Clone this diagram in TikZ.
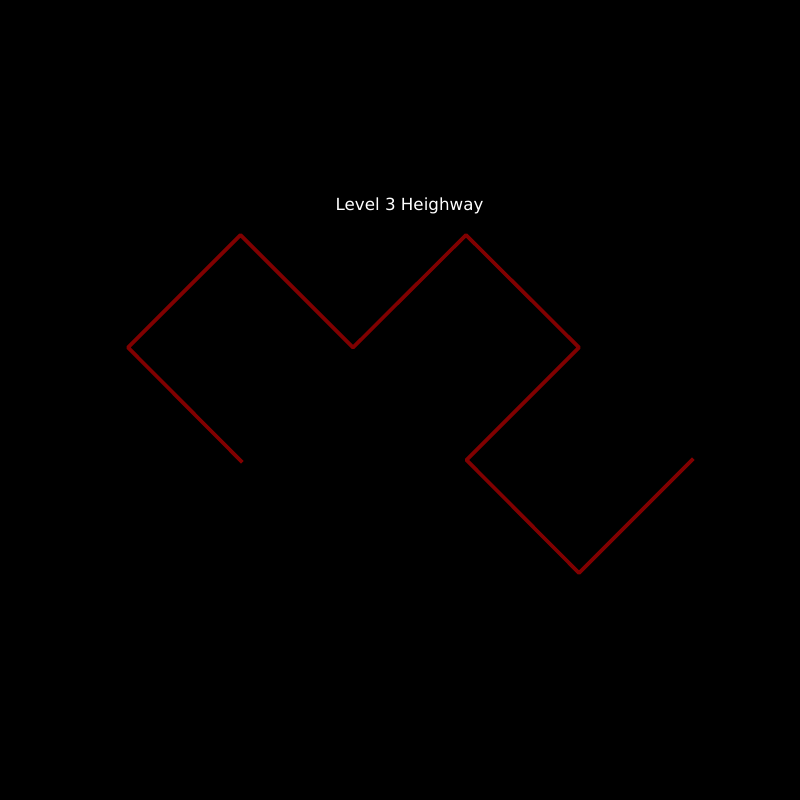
\documentclass[tikz,border=0pt]{standalone}
\usepackage{fontspec}
\setmainfont{DejaVu Sans}
\definecolor{curve}{RGB}{128,0,0}
\begin{document}
\begin{tikzpicture}[x=1pt,y=-1pt,
  curveline/.style={draw=curve,line width=3.6pt,line cap=rect,line join=round},
  titletext/.style={text=white,font=\fontsize{16.7}{20}\selectfont,inner sep=0pt}]
\fill[black] (0,0) rectangle (800,800);
\useasboundingbox (0,0) rectangle (800,800);
\node[titletext] (title) at (409.5,206) {Level 3 Heighway};
\coordinate (p0) at (241,461);
\coordinate (p1) at (128,347.5);
\coordinate (p2) at (240.5,235);
\coordinate (p3) at (353,347.5);
\coordinate (p4) at (466,235);
\coordinate (p5) at (579,347.5);
\coordinate (p6) at (466.5,460);
\coordinate (p7) at (579,573);
\coordinate (p8) at (692,460);
\draw[curveline] (p0) -- (p1) -- (p2) -- (p3) -- (p4) -- (p5) -- (p6) -- (p7) -- (p8);
\end{tikzpicture}
\end{document}
